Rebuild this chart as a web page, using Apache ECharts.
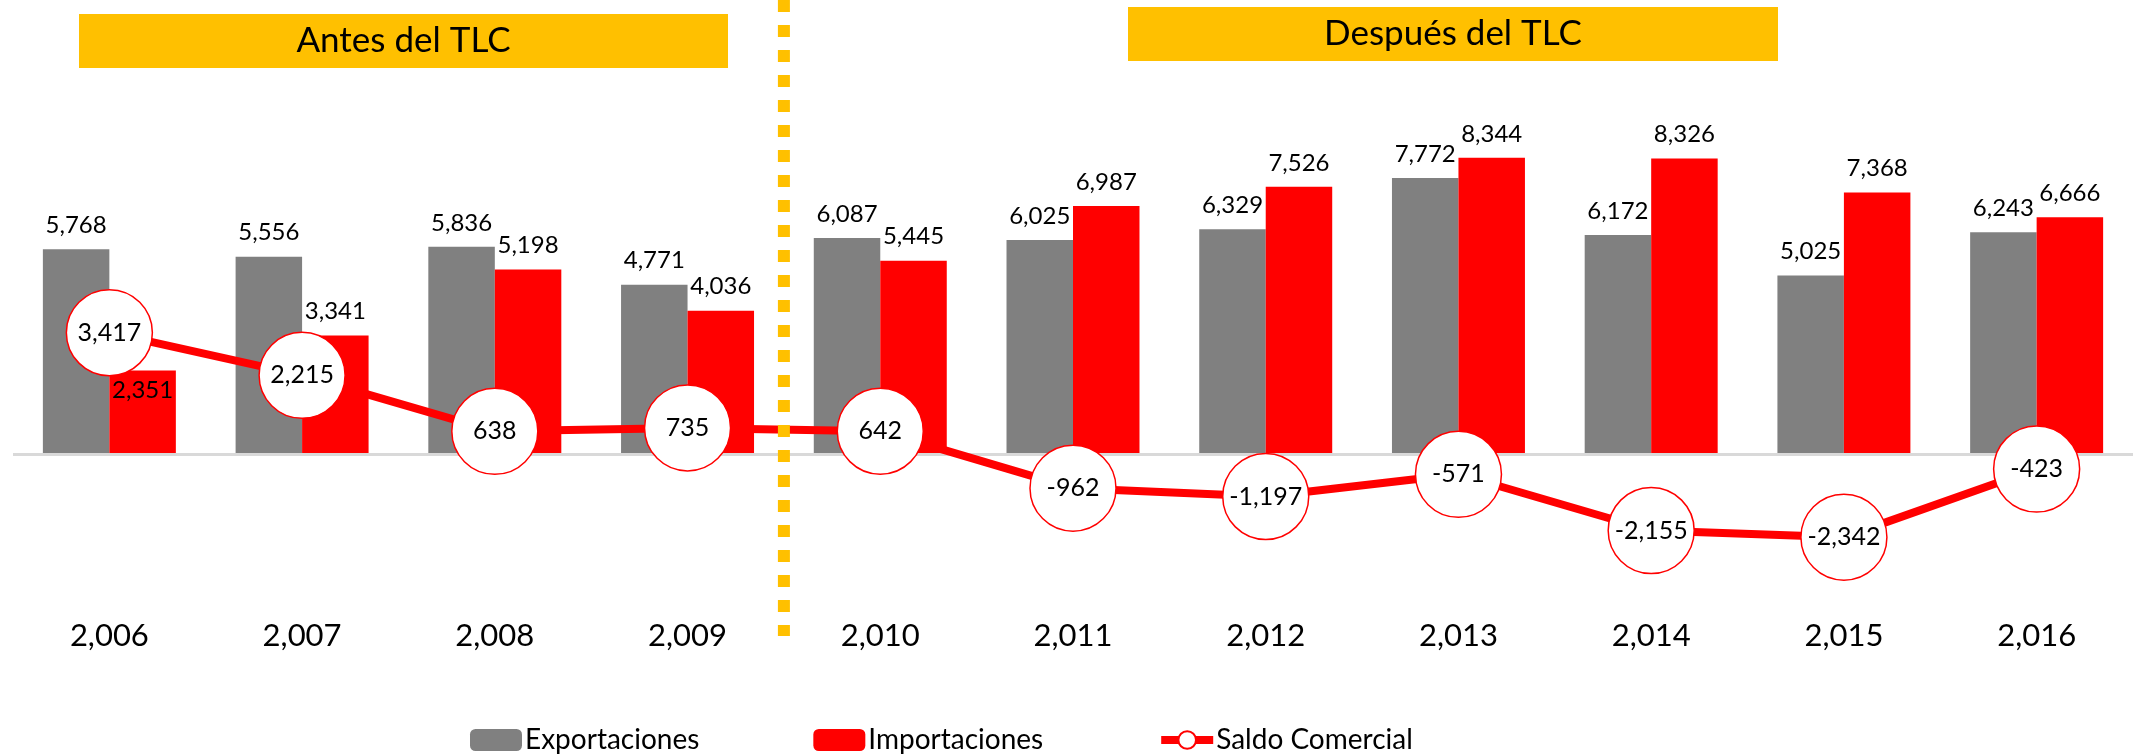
<!DOCTYPE html>
<html>
<head>
<meta charset="utf-8">
<title>Balanza comercial</title>
<script src="https://cdn.jsdelivr.net/npm/echarts@6/dist/echarts.min.js"></script>
<style>
  html, body { margin: 0; padding: 0; background: #fff; }
  #chart { width: 2133px; height: 755px; }
</style>
</head>
<body>
<div id="chart"></div>
<script>
// datos (millones US$)
const years = ['2,006', '2,007', '2,008', '2,009', '2,010', '2,011', '2,012', '2,013', '2,014', '2,015', '2,016'];
const exportaciones = [5768, 5556, 5836, 4771, 6087, 6025, 6329, 7772, 6172, 5025, 6243];
const importaciones = [2351, 3341, 5198, 4036, 5445, 6987, 7526, 8344, 8326, 7368, 6666];
const saldo = [3417, 2215, 638, 735, 642, -962, -1197, -571, -2155, -2342, -423];

const FONT = 'Lato, "Open Sans", sans-serif';
const fmt = (v) => Number(v).toLocaleString('en-US');

const chart = echarts.init(document.getElementById('chart'));

// la etiqueta de 2006 va dentro de la barra (el circulo la tapa)
const impData = importaciones.map((v, i) =>
  i === 0 ? { value: v, label: { position: 'insideTop', distance: 8 } } : v
);

const option = {
  animation: false,
  textStyle: { fontFamily: FONT },
  grid: { left: 13, right: 0, top: 99, bottom: 159, containLabel: false, outerBoundsMode: 'none' },
  legend: {
    left: 465,
    top: 721,
    itemWidth: 52,
    itemHeight: 22,
    itemGap: 114,
    textStyle: { fontFamily: FONT, fontSize: 28, color: '#000', padding: [0, 0, 0, -2] },
    data: [
      'Exportaciones',
      'Importaciones',
      { name: 'Saldo Comercial', lineStyle: { width: 8 } },
    ],
  },
  xAxis: {
    type: 'category',
    data: years,
    axisLine: { show: false },
    axisTick: { show: false },
    axisLabel: { fontFamily: FONT, fontSize: 31, color: '#000', margin: 24 },
  },
  yAxis: {
    type: 'value',
    min: -4000,
    max: 10000,
    show: false,
    splitLine: { show: false },
  },
  series: [
    {
      name: 'Exportaciones',
      type: 'bar',
      data: exportaciones,
      barGap: '0%',
      barCategoryGap: '31%',
      itemStyle: { color: '#808080' },
      label: { show: true, position: 'top', distance: 12, color: '#000', fontSize: 24, fontFamily: FONT, formatter: (p) => fmt(p.value) },
      // linea del cero
      markLine: {
        silent: true,
        symbol: 'none',
        label: { show: false },
        lineStyle: { color: '#d9d9d9', width: 3, type: 'solid' },
        data: [{ yAxis: 0 }],
      },
    },
    {
      name: 'Importaciones',
      type: 'bar',
      data: impData,
      itemStyle: { color: '#ff0000' },
      label: { show: true, position: 'top', distance: 12, color: '#000', fontSize: 24, fontFamily: FONT, formatter: (p) => fmt(p.value) },
    },
    {
      name: 'Saldo Comercial',
      type: 'line',
      data: saldo,
      z: 5,
      symbol: 'circle',
      symbolSize: 86,
      lineStyle: { color: '#ff0000', width: 8 },
      itemStyle: { color: '#fff', borderColor: '#ff0000', borderWidth: 1.5 },
      label: { show: true, position: 'inside', color: '#000', fontSize: 25, fontFamily: FONT, formatter: (p) => fmt(p.value) },
    },
  ],
};

chart.setOption(option);

// separador antes / despues del TLC, entre 2009 y 2010
const x1 = chart.convertToPixel({ xAxisIndex: 0 }, years[3]);
const x2 = chart.convertToPixel({ xAxisIndex: 0 }, years[4]);
const sepX = (x1 + x2) / 2;

function banner(x, y, w, h, text) {
  return {
    type: 'group',
    z: 100,
    children: [
      { type: 'rect', shape: { x: x, y: y, width: w, height: h }, style: { fill: '#ffc000' } },
      {
        type: 'text',
        x: x + w / 2,
        y: y + h / 2,
        style: { text: text, fontSize: 35, fontFamily: FONT, fill: '#000', align: 'center', verticalAlign: 'middle' },
      },
    ],
  };
}

chart.setOption({
  graphic: [
    {
      type: 'line',
      z: 100,
      shape: { x1: sepX, y1: 0, x2: sepX, y2: 636 },
      style: { stroke: '#ffc000', lineWidth: 12, lineDash: [12, 13] },
    },
    banner(79, 14, 649, 54, 'Antes del TLC'),
    banner(1128, 7, 650, 54, 'Después del TLC'),
  ],
});
</script>
</body>
</html>
